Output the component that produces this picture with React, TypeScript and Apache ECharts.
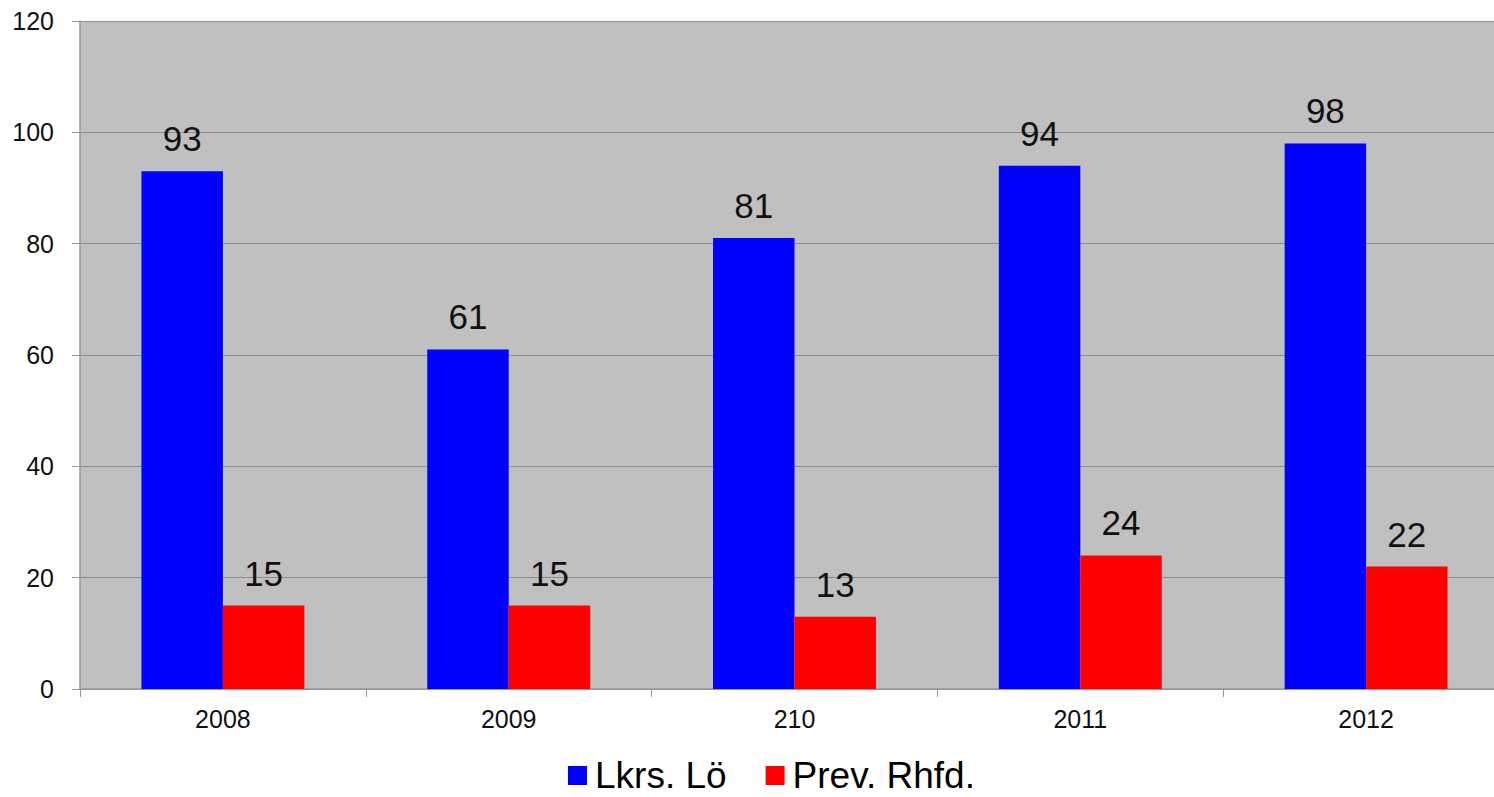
import React, { useEffect, useRef } from "react";
import * as echarts from "echarts";

const categories = ["2008", "2009", "210", "2011", "2012"];
const lkrsValues = [93, 61, 81, 94, 98];
const prevValues = [15, 15, 13, 24, 22];
const seriesNames = ["Lkrs. Lö", "Prev. Rhfd."];

export default function App() {
  const ref = useRef<HTMLDivElement>(null);
  useEffect(() => {
    if (!ref.current) return;
    const chart = echarts.init(ref.current, null, { renderer: "svg" });
    const font = "Arial, 'Liberation Sans', sans-serif";
    chart.setOption({
      animation: false,
      backgroundColor: "#ffffff",
      textStyle: { fontFamily: font },
      grid: { left: 80, right: 0, top: 21, bottom: 108, backgroundColor: "#C0C0C0", show: true, borderWidth: 0 },
      legend: {
        top: 757,
        left: 568,
        padding: 0,
        itemWidth: 19,
        itemHeight: 19,
        itemGap: 39,
        icon: "rect",
        textStyle: { fontSize: 37, lineHeight: 36, color: "#000", fontFamily: font, padding: [0, 0, 0, 3] },
        data: seriesNames,
      },
      xAxis: {
        type: "category",
        data: categories,
        axisLine: { lineStyle: { color: "#999", width: 1.5 } },
        axisTick: { show: true, length: 8, lineStyle: { color: "#999" } },
        axisLabel: { fontSize: 25, color: "#111", margin: 17, fontFamily: font },
      },
      yAxis: {
        type: "value",
        min: 0,
        max: 120,
        interval: 20,
        axisLine: { show: true, lineStyle: { color: "#999", width: 1.5 } },
        axisTick: { show: true, length: 8, lineStyle: { color: "#999" } },
        axisLabel: { fontSize: 25, color: "#111", margin: 26, fontFamily: font },
        splitLine: { lineStyle: { color: "#8c8c8c", width: 1 } },
      },
      series: [
        {
          name: seriesNames[0],
          type: "bar",
          data: lkrsValues,
          itemStyle: { color: "#0000FF" },
          barGap: "0%",
          barCategoryGap: "43%",
          label: { show: true, position: "top", distance: 15, fontSize: 35, color: "#111", fontFamily: font },
        },
        {
          name: seriesNames[1],
          type: "bar",
          data: prevValues,
          itemStyle: { color: "#FF0000" },
          barGap: "0%",
          barCategoryGap: "43%",
          label: { show: true, position: "top", distance: 15, fontSize: 35, color: "#111", fontFamily: font },
        },
      ],
    });
    return () => chart.dispose();
  }, []);
  return (
    <div style={{ position: "fixed", left: 0, top: 0, width: 1494, height: 797, overflow: "hidden" }}>
      <div ref={ref} style={{ width: 1509, height: 797 }} />
    </div>
  );
}
